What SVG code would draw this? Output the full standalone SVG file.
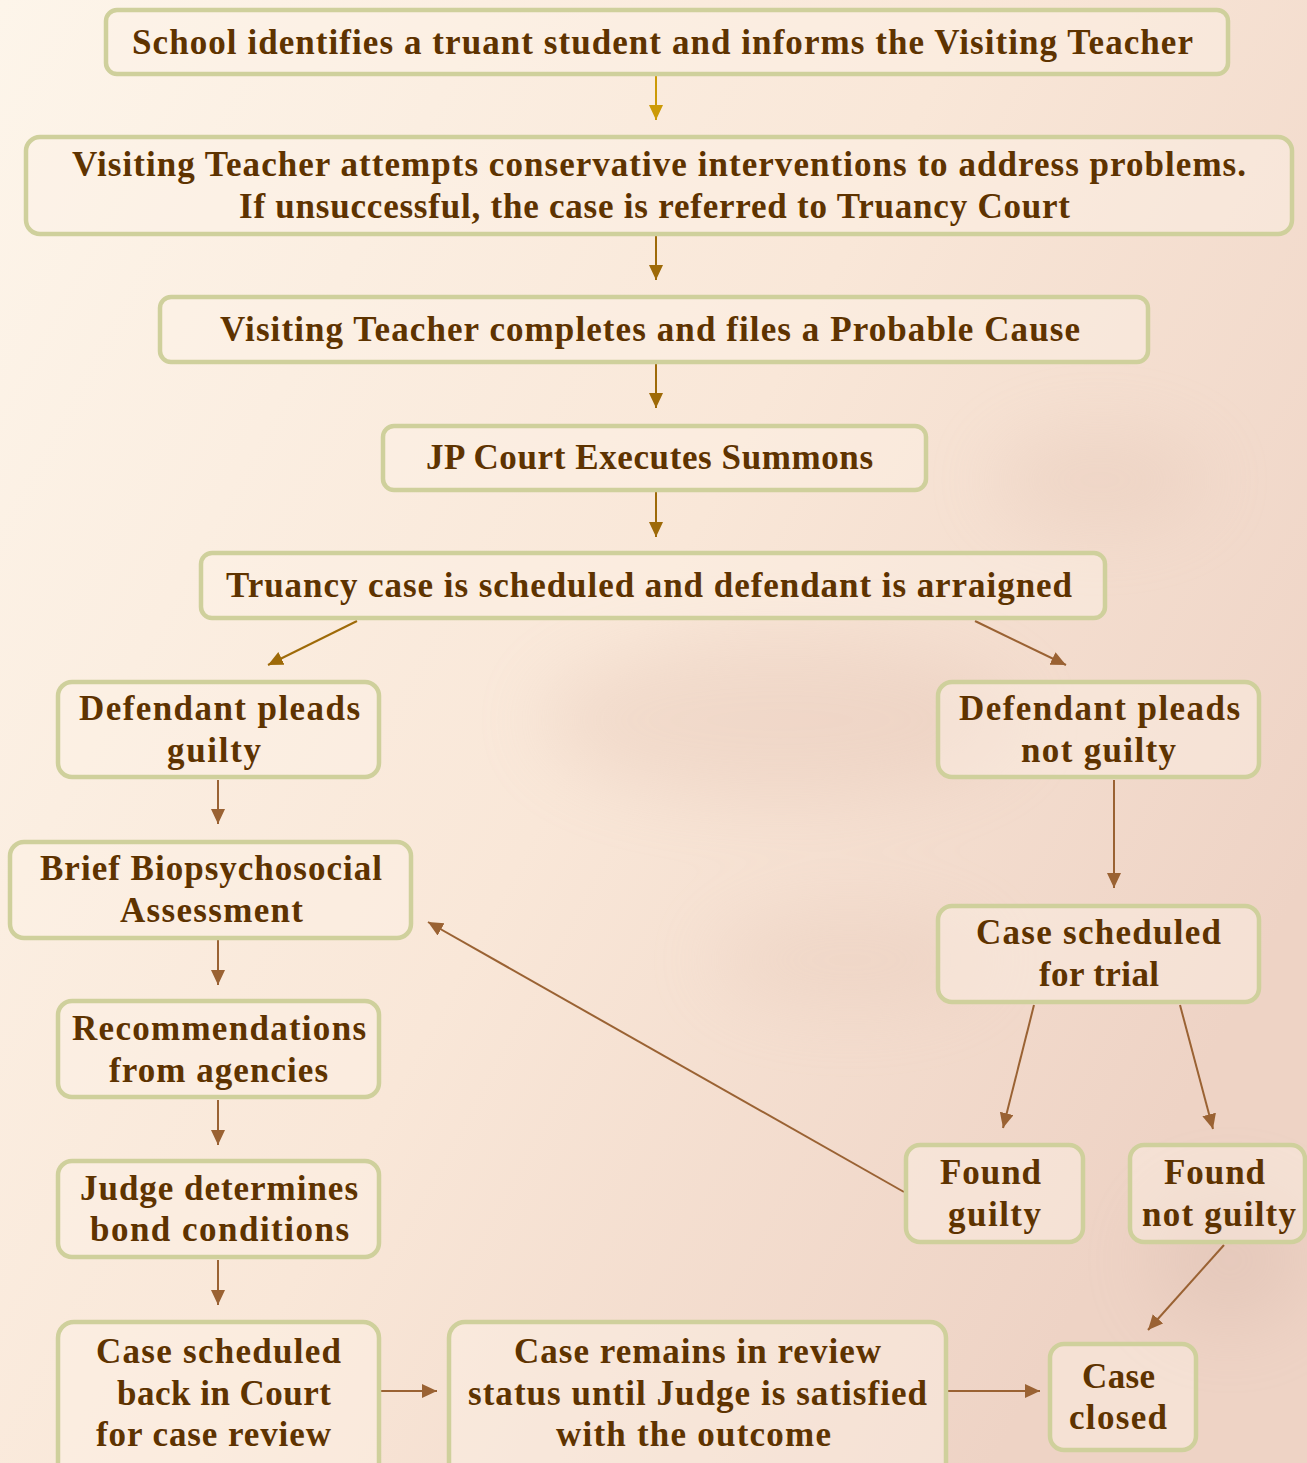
<svg xmlns="http://www.w3.org/2000/svg" width="1307" height="1463" viewBox="0 0 1307 1463">
<defs>
<linearGradient id="bg" x1="0" y1="0" x2="1" y2="0.6">
<stop offset="0" stop-color="#fdf5ea"/>
<stop offset="0.55" stop-color="#f9e7d8"/>
<stop offset="1" stop-color="#eed3c5"/>
</linearGradient>
<filter id="blur" x="-50%" y="-50%" width="200%" height="200%"><feGaussianBlur stdDeviation="35"/></filter>
<marker id="ag" markerUnits="userSpaceOnUse" markerWidth="16" markerHeight="16" refX="15" refY="7" orient="auto"><path d="M0,0 L15,7 L0,14 z" fill="#cc9a06"/></marker>
<marker id="ad" markerUnits="userSpaceOnUse" markerWidth="16" markerHeight="16" refX="15" refY="7" orient="auto"><path d="M0,0 L15,7 L0,14 z" fill="#9e6a08"/></marker>
<marker id="ab" markerUnits="userSpaceOnUse" markerWidth="16" markerHeight="16" refX="15" refY="7" orient="auto"><path d="M0,0 L15,7 L0,14 z" fill="#9a6233"/></marker>
</defs>
<style>
.box{fill:#fdf2e6;fill-opacity:0.45;stroke:#cfd09c;stroke-width:4.5}
.t{font-family:"Liberation Serif","DejaVu Serif",serif;font-weight:bold;font-size:35px;fill:#5e3300;lengthAdjust:spacing}
.cg{stroke:#cc9a06;stroke-width:2;fill:none;marker-end:url(#ag)}
.cd{stroke:#9e6a08;stroke-width:2;fill:none;marker-end:url(#ad)}
.cb{stroke:#9a6233;stroke-width:2;fill:none;marker-end:url(#ab)}
</style>
<rect width="1307" height="1463" fill="url(#bg)"/>
<g filter="url(#blur)" opacity="0.22">
<ellipse cx="780" cy="720" rx="240" ry="80" fill="#d9b2a2"/>
<ellipse cx="1100" cy="480" rx="110" ry="50" fill="#dcb9a8"/>
<ellipse cx="1230" cy="1260" rx="80" ry="70" fill="#c9a89c"/>
<ellipse cx="850" cy="960" rx="140" ry="50" fill="#e0bfae"/>
</g>
<g id="connectors">
<line class="cg" x1="656" y1="76" x2="656" y2="120"/>
<line class="cd" x1="656" y1="236" x2="656" y2="280"/>
<line class="cd" x1="656" y1="364" x2="656" y2="408"/>
<line class="cd" x1="656" y1="492" x2="656" y2="537"/>
<line class="cd" x1="357" y1="621" x2="268" y2="665"/>
<line class="cb" x1="975" y1="621" x2="1066" y2="665"/>
<line class="cb" x1="218" y1="780" x2="218" y2="824"/>
<line class="cb" x1="1114" y1="780" x2="1114" y2="888"/>
<line class="cb" x1="218" y1="940" x2="218" y2="985"/>
<line class="cb" x1="218" y1="1100" x2="218" y2="1145"/>
<line class="cb" x1="218" y1="1260" x2="218" y2="1305"/>
<line class="cb" x1="1034" y1="1005" x2="1003" y2="1128"/>
<line class="cb" x1="1180" y1="1005" x2="1213" y2="1129"/>
<line class="cb" x1="904" y1="1192" x2="428" y2="922"/>
<line class="cb" x1="1224" y1="1245" x2="1148" y2="1330"/>
<line class="cb" x1="381" y1="1391" x2="437" y2="1391"/>
<line class="cb" x1="948" y1="1391" x2="1040" y2="1391"/>
</g>
<g id="n1"><rect class="box" x="106" y="10" width="1122" height="64" rx="11"/><text class="t" x="132" y="54" textLength="1061" lengthAdjust="spacing">School identifies a truant student and informs the Visiting Teacher</text></g>
<g id="n2"><rect class="box" x="26" y="137" width="1266" height="97" rx="14"/><text class="t" x="72" y="176" textLength="1174" lengthAdjust="spacing">Visiting Teacher attempts conservative interventions to address problems.</text><text class="t" x="239" y="218" textLength="831" lengthAdjust="spacing">If unsuccessful, the case is referred to Truancy Court</text></g>
<g id="n3"><rect class="box" x="160" y="297" width="988" height="65" rx="11"/><text class="t" x="220" y="341" textLength="860" lengthAdjust="spacing">Visiting Teacher completes and files a Probable Cause</text></g>
<g id="n4"><rect class="box" x="383" y="426" width="543" height="64" rx="11"/><text class="t" x="426" y="469" textLength="447" lengthAdjust="spacing">JP Court Executes Summons</text></g>
<g id="n5"><rect class="box" x="201" y="553" width="904" height="65" rx="11"/><text class="t" x="226" y="597" textLength="846" lengthAdjust="spacing">Truancy case is scheduled and defendant is arraigned</text></g>
<g id="n6"><rect class="box" x="58" y="682" width="321" height="95" rx="14"/><text class="t" x="79" y="720" textLength="281" lengthAdjust="spacing">Defendant pleads</text><text class="t" x="167" y="762" textLength="94" lengthAdjust="spacing">guilty</text></g>
<g id="n7"><rect class="box" x="938" y="682" width="321" height="95" rx="14"/><text class="t" x="959" y="720" textLength="281" lengthAdjust="spacing">Defendant pleads</text><text class="t" x="1021" y="762" textLength="155" lengthAdjust="spacing">not guilty</text></g>
<g id="n8"><rect class="box" x="10" y="842" width="401" height="96" rx="14"/><text class="t" x="40" y="880" textLength="342" lengthAdjust="spacing">Brief Biopsychosocial</text><text class="t" x="120" y="922" textLength="183" lengthAdjust="spacing">Assessment</text></g>
<g id="n9"><rect class="box" x="58" y="1001" width="321" height="96" rx="14"/><text class="t" x="72" y="1040" textLength="294" lengthAdjust="spacing">Recommendations</text><text class="t" x="109" y="1082" textLength="219" lengthAdjust="spacing">from agencies</text></g>
<g id="n10"><rect class="box" x="58" y="1161" width="321" height="96" rx="14"/><text class="t" x="80" y="1200" textLength="278" lengthAdjust="spacing">Judge determines</text><text class="t" x="90" y="1241" textLength="259" lengthAdjust="spacing">bond conditions</text></g>
<g id="n11"><rect class="box" x="58" y="1322" width="321" height="160" rx="16"/><text class="t" x="96" y="1363" textLength="245" lengthAdjust="spacing">Case scheduled</text><text class="t" x="117" y="1405" textLength="214" lengthAdjust="spacing">back in Court</text><text class="t" x="96" y="1446" textLength="235" lengthAdjust="spacing">for case review</text></g>
<g id="n12"><rect class="box" x="938" y="906" width="321" height="96" rx="14"/><text class="t" x="976" y="944" textLength="245" lengthAdjust="spacing">Case scheduled</text><text class="t" x="1039" y="986" textLength="120" lengthAdjust="spacing">for trial</text></g>
<g id="n13"><rect class="box" x="906" y="1145" width="177" height="97" rx="14"/><text class="t" x="940" y="1184" textLength="101" lengthAdjust="spacing">Found</text><text class="t" x="948" y="1226" textLength="93" lengthAdjust="spacing">guilty</text></g>
<g id="n14"><rect class="box" x="1130" y="1145" width="175" height="97" rx="14"/><text class="t" x="1164" y="1184" textLength="101" lengthAdjust="spacing">Found</text><text class="t" x="1142" y="1226" textLength="154" lengthAdjust="spacing">not guilty</text></g>
<g id="n15"><rect class="box" x="449" y="1322" width="497" height="160" rx="16"/><text class="t" x="514" y="1363" textLength="367" lengthAdjust="spacing">Case remains in review</text><text class="t" x="468" y="1405" textLength="459" lengthAdjust="spacing">status until Judge is satisfied</text><text class="t" x="556" y="1446" textLength="275" lengthAdjust="spacing">with the outcome</text></g>
<g id="n16"><rect class="box" x="1050" y="1344" width="146" height="106" rx="14"/><text class="t" x="1082" y="1388" textLength="73" lengthAdjust="spacing">Case</text><text class="t" x="1069" y="1429" textLength="98" lengthAdjust="spacing">closed</text></g>
</svg>
